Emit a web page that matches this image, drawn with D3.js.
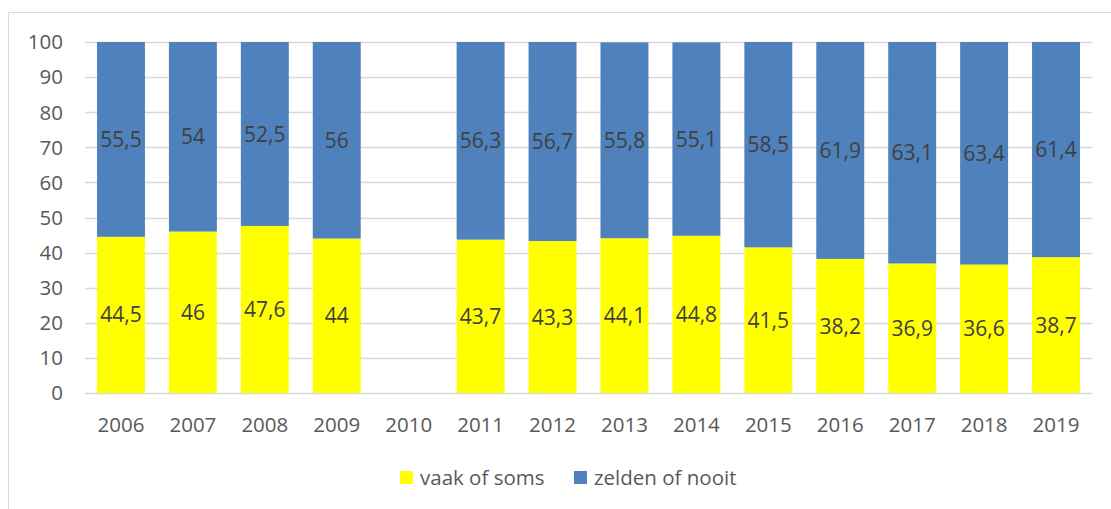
<!DOCTYPE html>
<html>
<head>
<meta charset="utf-8">
<script src="https://cdn.jsdelivr.net/npm/d3@7"></script>
<style>
  body { margin: 0; background: #fff; }
  text { font-family: "Open Sans", "Liberation Sans", sans-serif; }
</style>
</head>
<body>
<div id="chart"></div>
<script>
// data
const years = ["2006", "2007", "2008", "2009", "2010", "2011", "2012", "2013", "2014", "2015", "2016", "2017", "2018", "2019"];
const vaak = [44.5, 46, 47.6, 44, null, 43.7, 43.3, 44.1, 44.8, 41.5, 38.2, 36.9, 36.6, 38.7];
const zelden = [55.5, 54, 52.5, 56, null, 56.3, 56.7, 55.8, 55.1, 58.5, 61.9, 63.1, 63.4, 61.4];
const yTicks = [0, 10, 20, 30, 40, 50, 60, 70, 80, 90, 100];
const seriesNames = ["vaak of soms", "zelden of nooit"];
const colors = ["#FFFF00", "#4F81BD"];

const W = 1111, H = 509;
const margin = { top: 42, right: 19, bottom: 116, left: 85 };

const svg = d3.select("#chart")
    .append("svg")
    .attr("width", W)
    .attr("height", H);

// chart border (only left/top visible in the frame)
svg.append("rect")
    .attr("x", 8.5).attr("y", 12.5)
    .attr("width", W).attr("height", H)
    .attr("fill", "none")
    .attr("stroke", "#d9d9d9");

const x = d3.scaleBand()
    .domain(years)
    .range([margin.left, W - margin.right])
    .paddingInner(1 / 3)
    .paddingOuter(1 / 6);

const y = d3.scaleLinear()
    .domain([0, 100])
    .range([H - margin.bottom, margin.top])
    .clamp(true);

// gridlines
svg.append("g")
    .selectAll("line")
    .data(yTicks)
    .enter().append("line")
    .attr("x1", margin.left)
    .attr("x2", W - margin.right)
    .attr("y1", d => Math.round(y(d)) + 0.5)
    .attr("y2", d => Math.round(y(d)) + 0.5)
    .attr("stroke", "#d9d9d9")
    .attr("stroke-width", 1.5);

// y labels
svg.append("g")
    .selectAll("text")
    .data(yTicks)
    .enter().append("text")
    .attr("x", 63)
    .attr("y", d => y(d))
    .attr("dy", "0.36em")
    .attr("text-anchor", "end")
    .attr("font-size", 20.5)
    .attr("fill", "#595959")
    .text(d => d);

// x labels
svg.append("g")
    .selectAll("text")
    .data(years)
    .enter().append("text")
    .attr("x", d => x(d) + x.bandwidth() / 2)
    .attr("y", 425)
    .attr("dy", "0.36em")
    .attr("text-anchor", "middle")
    .attr("font-size", 20.5)
    .attr("fill", "#595959")
    .text(d => d);

// stacked bars
const rows = years.map((yr, i) => ({ year: yr, v: [vaak[i], zelden[i]] }));
const fmt = v => String(v).replace(".", ",");

rows.forEach(r => {
    if (r.v[0] == null) return;
    let base = 0;
    r.v.forEach((val, k) => {
        const y0 = y(base), y1 = y(base + val);
        svg.append("rect")
            .attr("x", x(r.year))
            .attr("width", x.bandwidth())
            .attr("y", y1)
            .attr("height", y0 - y1)
            .attr("fill", colors[k]);
        svg.append("text")
            .attr("x", x(r.year) + x.bandwidth() / 2)
            .attr("y", (y0 + y1) / 2)
            .attr("dy", "0.36em")
            .attr("text-anchor", "middle")
            .attr("font-size", 21)
            .attr("fill", "#404040")
            .text(fmt(val));
        base += val;
    });
});

// legend
const legendX = [400, 574];
const lg = svg.append("g");
seriesNames.forEach((name, k) => {
    lg.append("rect")
        .attr("x", legendX[k]).attr("y", 471)
        .attr("width", 13).attr("height", 13)
        .attr("fill", colors[k]);
    lg.append("text")
        .attr("x", legendX[k] + 20)
        .attr("y", 478)
        .attr("dy", "0.36em")
        .attr("font-size", 20.5)
        .attr("fill", "#595959")
        .text(name);
});
</script>
</body>
</html>
